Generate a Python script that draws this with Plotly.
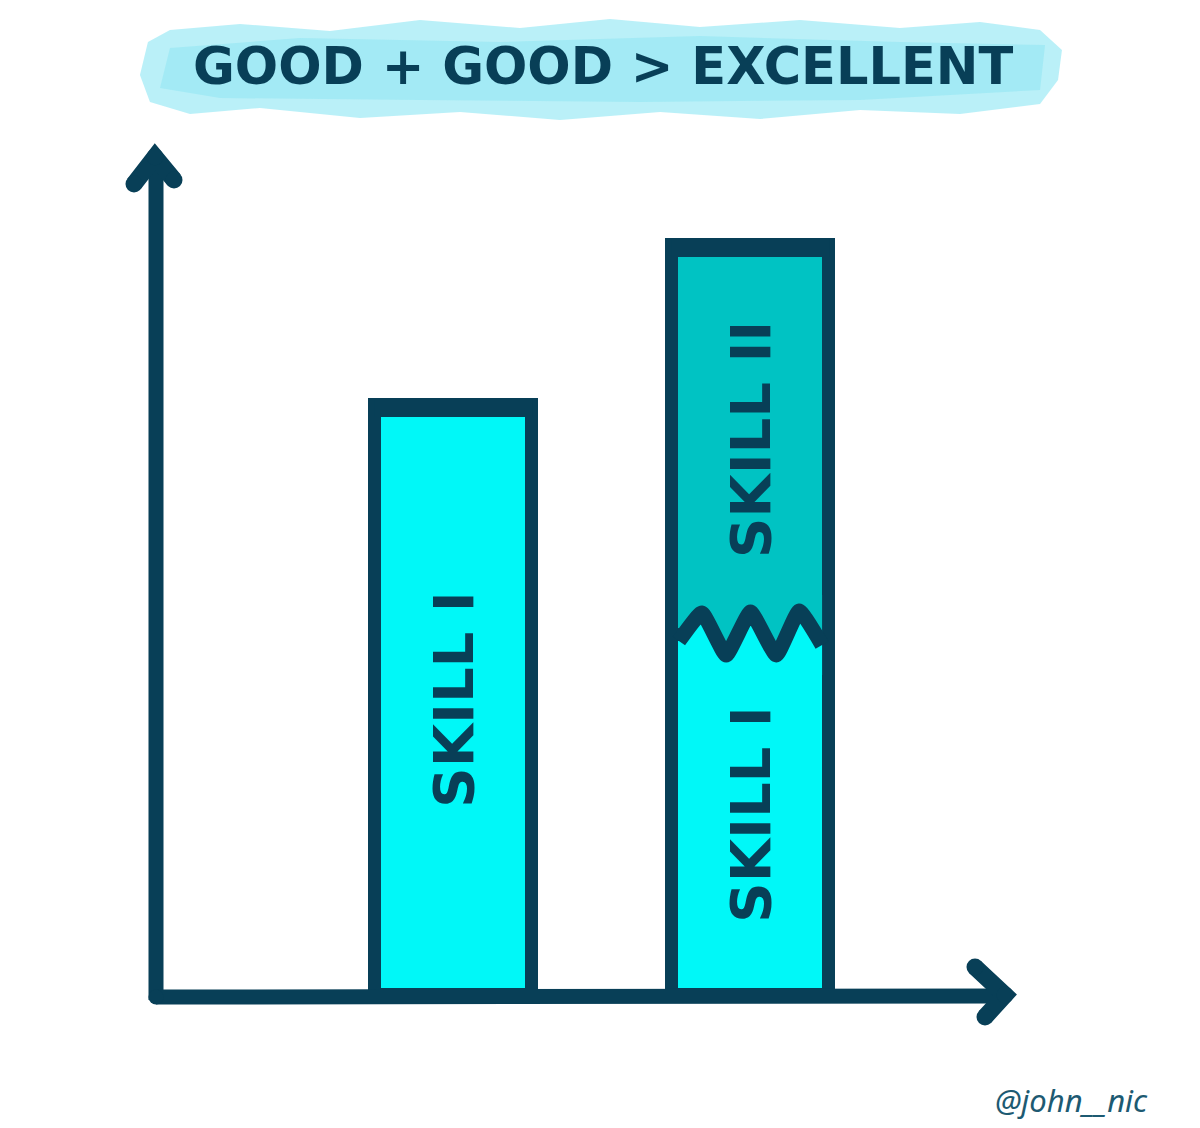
import plotly.graph_objects as go

# ---------------- data ----------------
categories = ["Good", "Good + Good"]
skill_one = [59, 36]          # height of the "Skill I" part of each bar
skill_two = [None, 39]        # height of the "Skill II" part (only in the second bar)
bar_labels_one = ["SKILL I", "SKILL I"]
bar_labels_two = ["", "SKILL II"]
title_text = "GOOD + GOOD > EXCELLENT"
credit_text = "@john__nic"

# ---------------- style ----------------
W, H = 1200, 1128          # reference picture size
OFF = 8                    # page body margin
FW, FH = W - OFF, H - OFF  # figure size
DARK = "#083f57"
CYAN = "#00f8f8"
TEAL = "#00c3c3"
BRUSH = "rgba(130,228,243,0.55)"
LW = 13
BAR_W = 0.53
FONT = "DejaVu Sans"

xpos = list(range(len(categories)))

fig = go.Figure()

fig.add_trace(go.Bar(
    x=xpos, y=skill_one, width=BAR_W, name="Skill I",
    marker=dict(color=CYAN, line=dict(color=DARK, width=LW)),
    text=bar_labels_one, textposition="inside", insidetextanchor="middle",
    textangle=-90, constraintext="none",
    insidetextfont=dict(family=FONT, size=56, color=DARK, weight="bold"),
    hoverinfo="skip", showlegend=False,
))
fig.add_trace(go.Bar(
    x=xpos, y=skill_two, width=BAR_W, name="Skill II",
    marker=dict(color=TEAL, line=dict(color=DARK, width=LW)),
    text=bar_labels_two, textposition="inside", insidetextanchor="middle",
    textangle=-90, constraintext="none",
    insidetextfont=dict(family=FONT, size=56, color=DARK, weight="bold"),
    hoverinfo="skip", showlegend=False,
))

# zig-zag "torn" boundary between the two skills in the stacked bar
i = 1
b = skill_one[i]
half_in = BAR_W / 2 - 0.024
fr = [0, 0.16, 0.33, 0.5, 0.68, 0.84, 1.0]
off = [-0.6, 2.2, -2.0, 2.3, -2.0, 2.4, -1.0]
zx = [xpos[i] - half_in + f * 2 * half_in for f in fr]
zy = [b + o for o in off]
left, right = zx[0], zx[-1]
fig.add_trace(go.Scatter(
    x=zx + [right, left, zx[0]], y=zy + [b + 4, b + 4, zy[0]],
    mode="lines", fill="toself", fillcolor=TEAL, line=dict(width=0, color=TEAL),
    hoverinfo="skip", showlegend=False))
fig.add_trace(go.Scatter(
    x=zx + [right, left, zx[0]], y=zy + [b - 4, b - 4, zy[0]],
    mode="lines", fill="toself", fillcolor=CYAN, line=dict(width=0, color=CYAN),
    hoverinfo="skip", showlegend=False))
fig.add_trace(go.Scatter(
    x=zx, y=zy, mode="lines", line=dict(color=DARK, width=15, shape="spline", smoothing=0.4),
    hoverinfo="skip", showlegend=False))

# thicker top edge of each bar
tops = [(skill_one[k] or 0) + (skill_two[k] or 0) for k in range(len(categories))]
for k, t in enumerate(tops):
    fig.add_shape(type="line", xref="x", yref="y",
                  x0=xpos[k] - BAR_W / 2, x1=xpos[k] + BAR_W / 2, y0=t - 0.3, y1=t - 0.3,
                  line=dict(color=DARK, width=18))


# ---------------- decoration (reference-pixel helpers) ----------------
def px(x):
    return (x - OFF) / FW


def py(y):
    return 1 - (y - OFF) / FH


# brush behind the title
brush_pts = [(148, 42), (170, 30), (240, 24), (330, 31), (420, 20), (520, 28), (610, 19),
             (700, 27), (800, 20), (900, 28), (980, 22), (1040, 30), (1062, 50), (1058, 80),
             (1040, 104), (960, 114), (860, 110), (760, 119), (660, 112), (560, 120),
             (460, 112), (360, 118), (260, 108), (190, 114), (150, 102), (140, 75)]
path = "M " + " L ".join(f"{px(x):.4f},{py(y):.4f}" for x, y in brush_pts) + " Z"
fig.add_shape(type="path", xref="paper", yref="paper", path=path,
              fillcolor=BRUSH, line=dict(width=0), layer="below")
inner_pts = [(170, 48), (300, 38), (500, 42), (700, 36), (900, 42), (1045, 45),
             (1040, 90), (860, 100), (640, 102), (420, 100), (220, 98), (160, 88)]
path2 = "M " + " L ".join(f"{px(x):.4f},{py(y):.4f}" for x, y in inner_pts) + " Z"
fig.add_shape(type="path", xref="paper", yref="paper", path=path2,
              fillcolor="rgba(110,222,240,0.30)", line=dict(width=0), layer="below")

# axes with arrows
AX = 15
fig.add_shape(type="line", xref="paper", yref="paper",
              x0=px(156), y0=py(1000), x1=px(156), y1=py(158), line=dict(color=DARK, width=AX))
fig.add_shape(type="line", xref="paper", yref="paper",
              x0=px(156), y0=py(997), x1=px(1005), y1=py(996), line=dict(color=DARK, width=AX))
fig.add_shape(type="circle", xref="paper", yref="paper",
              x0=px(148.5), x1=px(163.5), y0=py(1004.5), y1=py(989.5),
              fillcolor=DARK, line=dict(width=0))


def chevron(pts, w=17):
    p = "M " + " L ".join(f"{px(x):.4f},{py(y):.4f}" for x, y in pts)
    fig.add_shape(type="path", xref="paper", yref="paper", path=p,
                  line=dict(color=DARK, width=w))
    for (x, y) in pts:
        r = w / 2
        fig.add_shape(type="circle", xref="paper", yref="paper",
                      x0=px(x - r), x1=px(x + r), y0=py(y + r), y1=py(y - r),
                      fillcolor=DARK, line=dict(width=0))


chevron([(134, 184), (155, 157), (174, 180)])
chevron([(975, 967), (1005, 995), (985, 1017)])

# title
fig.add_annotation(xref="paper", yref="paper", x=px(603), y=py(66),
                   text=title_text, showarrow=False, xanchor="center", yanchor="middle",
                   font=dict(family=FONT, size=51, color=DARK, weight="bold"))
# credit
fig.add_annotation(xref="paper", yref="paper", x=px(1150), y=py(1100),
                   text=credit_text, showarrow=False, xanchor="right", yanchor="middle",
                   font=dict(family="Noto Sans", size=31, color="#1d5a72", style="italic"))

# ---------------- layout ----------------
base_px, scale = 995, 10.0
c0, step = 453.5, 297.0
fig.update_layout(
    width=FW, height=FH, margin=dict(l=0, r=0, t=0, b=0),
    paper_bgcolor="white", plot_bgcolor="white",
    barmode="stack", bargap=0,
    xaxis=dict(range=[(OFF - c0) / step, (W - c0) / step], visible=False, fixedrange=True),
    yaxis=dict(range=[(base_px - H) / scale, (base_px - OFF) / scale], visible=False, fixedrange=True),
)

fig.write_html("out.html")
